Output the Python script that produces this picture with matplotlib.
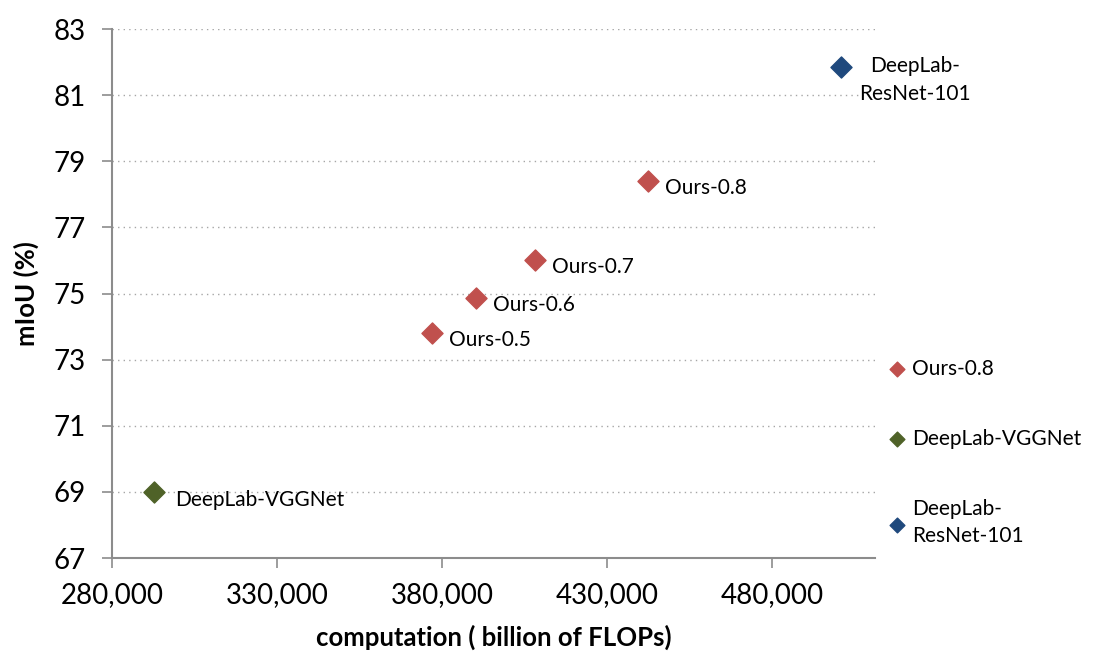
import matplotlib.pyplot as plt
from matplotlib.ticker import FuncFormatter

# data
ours_names = ["Ours-0.5", "Ours-0.6", "Ours-0.7", "Ours-0.8"]
ours_flops = [377000, 390300, 408200, 442400]
ours_miou = [73.8, 74.85, 76.0, 78.4]

vgg_flops = [292700]
vgg_miou = [69.0]

resnet_flops = [500900]
resnet_miou = [81.85]

x_ticks = [280000, 330000, 380000, 430000, 480000]
y_ticks = [67, 69, 71, 73, 75, 77, 79, 81, 83]

red = "#C0504D"
green = "#4F6228"
blue = "#1F497D"

plt.rcParams["font.family"] = ["Lato", "DejaVu Sans"]

fig = plt.figure(figsize=(10.99, 6.61), dpi=100)
ax = fig.add_axes([0.1019, 0.1558, 0.6943, 0.8003])

ax.scatter(ours_flops, ours_miou, marker="D", s=115, color=red, label="Ours-0.8", zorder=3)
ax.scatter(vgg_flops, vgg_miou, marker="D", s=115, color=green, label="DeepLab-VGGNet", zorder=3)
ax.scatter(resnet_flops, resnet_miou, marker="D", s=115, color=blue,
           label="DeepLab-\nResNet-101", zorder=3)

# point labels
for name, x, y in zip(ours_names, ours_flops, ours_miou):
    ax.annotate(name, (x, y), xytext=(17, -7), textcoords="offset pixels",
                fontsize=15, va="center", ha="left")
ax.annotate("DeepLab-VGGNet", (vgg_flops[0], vgg_miou[0]), xytext=(21, -8),
            textcoords="offset pixels", fontsize=15, va="center", ha="left")
ax.annotate("DeepLab-\nResNet-101", (resnet_flops[0], resnet_miou[0]), xytext=(74, -13),
            textcoords="offset pixels", fontsize=15, va="center", ha="center",
            linespacing=1.5)

ax.set_xlim(280000, 511200)
ax.set_ylim(67, 83)
ax.set_xticks(x_ticks)
ax.set_yticks(y_ticks)
ax.xaxis.set_major_formatter(FuncFormatter(lambda v, p: f"{int(v):,}"))
ax.tick_params(axis="both", direction="out", length=7, width=1.2, color="#8C8C8C",
               labelsize=20)
ax.tick_params(axis="y", pad=12)
ax.tick_params(axis="x", pad=10)

ax.grid(axis="y", linestyle=(0, (1, 3)), color="#A6A6A6", linewidth=1)
ax.set_axisbelow(True)
for side in ["top", "right"]:
    ax.spines[side].set_visible(False)
for side in ["left", "bottom"]:
    ax.spines[side].set_color("#8C8C8C")
    ax.spines[side].set_linewidth(1.5)

ax.set_xlabel("computation ( billion of FLOPs)", fontsize=18.5, fontweight="bold", labelpad=12)
ax.set_ylabel("mIoU (%)", fontsize=18.5, fontweight="bold", labelpad=10)

leg = fig.legend(loc="upper left", bbox_to_anchor=(0.799, 0.47), frameon=False,
                 fontsize=15, handletextpad=0.25, labelspacing=2.4, markerscale=0.7,
                 handlelength=1.0, borderaxespad=0)
leg.get_texts()[2].set_linespacing(1.45)

fig.savefig("out.png", dpi=100)
